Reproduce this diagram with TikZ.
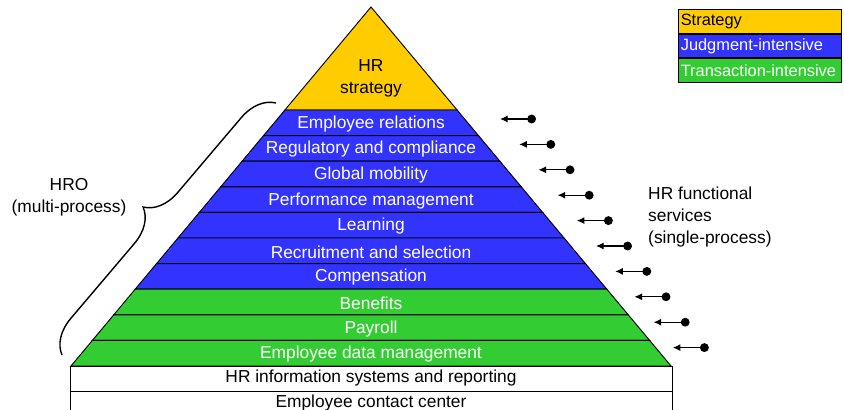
\documentclass[tikz,border=0pt]{standalone}
\usepackage{fontspec}
\setmainfont{Liberation Sans}
\usetikzlibrary{positioning,decorations.pathreplacing,arrows.meta}
\definecolor{stratcol}{HTML}{FFCC00}
\definecolor{judgcol}{HTML}{3333FF}
\definecolor{transcol}{HTML}{33CC33}
\tikzset{band/.style={draw=black,line width=0.8pt},
  lbl/.style={font=\fontsize{14.8}{18.7}\selectfont,inner sep=0pt},
  basebox/.style={draw=black,line width=0.8pt,minimum width=180.6mm,minimum height=7.5mm,
    inner sep=0pt,font=\fontsize{14.8}{18.7}\selectfont},
  legbox/.style={draw=black,line width=0.8pt,minimum height=7.1mm,inner xsep=0.7mm,inner ysep=0pt,
    text width=47.5mm,align=left,font=\fontsize{14}{17}\selectfont},
}

\begin{document}
\begin{tikzpicture}[x=0.3mm,y=-0.3mm]
  \useasboundingbox (0,0) rectangle (844,410);
  \coordinate (apex) at (371,7);
  \filldraw[band,fill=stratcol] (apex) -- (457.1,110) -- (284.9,110) -- cycle;
  \node[lbl,align=center] (strat) at (371,78) {HR\\strategy};
  \foreach \lab/\col [count=\i] in {Employee relations/judgcol,Regulatory and compliance/judgcol,
    Global mobility/judgcol,Performance management/judgcol,Learning/judgcol,
    Recruitment and selection/judgcol,Compensation/judgcol,Benefits/transcol,
    Payroll/transcol,Employee data management/transcol}
  {\pgfmathsetmacro\yt{110+25.6*(\i-1)}
   \pgfmathsetmacro\yb{\yt+25.6}
   \pgfmathsetmacro\wt{(\yt-7)*0.8357}
   \pgfmathsetmacro\wb{(\yb-7)*0.8357}
   \filldraw[band,fill=\col] (371-\wt,\yt) -- (371+\wt,\yt) -- (371+\wb,\yb) -- (371-\wb,\yb) -- cycle;
   \node[lbl,text=white] (b\i) at (371,{(\yt+\yb)/2+1}) {\lab};}
  \node[basebox] (his) at (371,378.5) {HR information systems and reporting};
  \node[basebox,below=0pt of his,minimum height=6.9mm] (ecc) {Employee contact center};
  \foreach \i in {1,...,10}
  {\coordinate (t\i) at ({500+19.2*(\i-1)},{119+25.4*(\i-1)});
   \coordinate (d\i) at ({536+19.2*(\i-1)},{119+25.4*(\i-1)});
   \draw[{Latex[length=6.5pt,width=6pt]}-{Circle[length=7.5pt]},line width=1pt] (t\i) -- (d\i);}
  \node[lbl,anchor=west,align=left] (hrfs) at (648,217) {HR functional\\services\\(single-process)};
  \coordinate (brlo) at (62,355);
  \coordinate (brhi) at (276,103);
  \draw[decorate,decoration={brace,amplitude=29pt},line width=1.2pt] (brlo) -- (brhi);
  \node[lbl,align=center] (hro) at (69,197) {HRO\\(multi-process)};
  \node[legbox,fill=stratcol,anchor=north west] (leg1) at (678,9) {Strategy};
  \node[legbox,fill=judgcol,text=white,below=0pt of leg1] (leg2) {Judgment-intensive};
  \node[legbox,fill=transcol,text=white,below=0pt of leg2] (leg3) {Transaction-intensive};
\end{tikzpicture}
\end{document}
